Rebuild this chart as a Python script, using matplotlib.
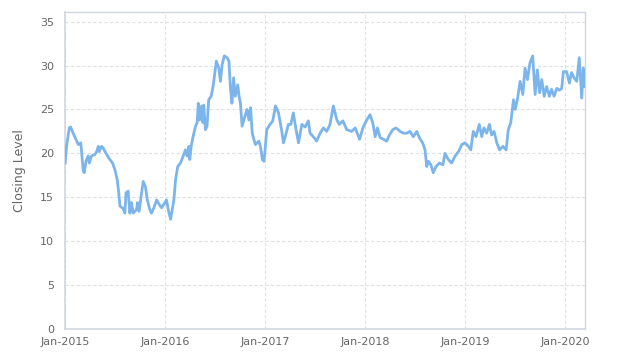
import matplotlib
matplotlib.use("Agg")
import matplotlib.pyplot as plt
import matplotlib.dates as mdates
import pandas as pd

dates = [
    "2015-01-02", "2015-01-07", "2015-01-17", "2015-01-22", "2015-01-31", "2015-02-10",
    "2015-02-19", "2015-02-28", "2015-03-09", "2015-03-13", "2015-03-19", "2015-03-27",
    "2015-03-31", "2015-04-08", "2015-04-21", "2015-04-27", "2015-05-03", "2015-05-06",
    "2015-05-15", "2015-05-21", "2015-06-02", "2015-06-14", "2015-06-24", "2015-07-03",
    "2015-07-11", "2015-07-16", "2015-07-21", "2015-08-02", "2015-08-08", "2015-08-12",
    "2015-08-20", "2015-08-26", "2015-09-01", "2015-09-07", "2015-09-20", "2015-09-23",
    "2015-09-29", "2015-10-08", "2015-10-14", "2015-10-22", "2015-10-29", "2015-11-07",
    "2015-11-13", "2015-11-22", "2015-12-02", "2015-12-11", "2015-12-20",
    "2016-01-07", "2016-01-16", "2016-01-22", "2016-01-28", "2016-02-03", "2016-02-09",
    "2016-02-17", "2016-02-27", "2016-03-08", "2016-03-16", "2016-03-22", "2016-03-29",
    "2016-04-01", "2016-04-06", "2016-04-13", "2016-04-22", "2016-04-28", "2016-05-02",
    "2016-05-07", "2016-05-14", "2016-05-19", "2016-05-22", "2016-05-28", "2016-06-03",
    "2016-06-09", "2016-06-18", "2016-06-25", "2016-07-07", "2016-07-16", "2016-07-22",
    "2016-07-28", "2016-08-05", "2016-08-15", "2016-08-22", "2016-08-27", "2016-09-02",
    "2016-09-08", "2016-09-14", "2016-09-23", "2016-09-28", "2016-10-03", "2016-10-09",
    "2016-10-21", "2016-10-27", "2016-11-03", "2016-11-09", "2016-11-15", "2016-11-21",
    "2016-11-27", "2016-12-09", "2016-12-15", "2016-12-22", "2016-12-28",
    "2017-01-02", "2017-01-07", "2017-01-19", "2017-01-29", "2017-02-08", "2017-02-19",
    "2017-03-03", "2017-03-09", "2017-03-19", "2017-03-27", "2017-04-05", "2017-04-14",
    "2017-04-24", "2017-05-03", "2017-05-15", "2017-05-27", "2017-06-08", "2017-06-14",
    "2017-06-26", "2017-07-08", "2017-07-21", "2017-08-02", "2017-08-14", "2017-08-26",
    "2017-09-07", "2017-09-20", "2017-09-29", "2017-10-12", "2017-10-26", "2017-11-13",
    "2017-11-26", "2017-12-12", "2017-12-24",
    "2018-01-07", "2018-01-19", "2018-01-29", "2018-02-07", "2018-02-15", "2018-02-25",
    "2018-03-09", "2018-03-21", "2018-03-31", "2018-04-12", "2018-04-24", "2018-05-09",
    "2018-05-21", "2018-06-02", "2018-06-14", "2018-06-26", "2018-07-09", "2018-07-18",
    "2018-07-30", "2018-08-08", "2018-08-14", "2018-08-20", "2018-08-29", "2018-09-07",
    "2018-09-17", "2018-09-29", "2018-10-12", "2018-10-20", "2018-11-01", "2018-11-13",
    "2018-11-26", "2018-12-08", "2018-12-20",
    "2019-01-01", "2019-01-13", "2019-01-22", "2019-01-31", "2019-02-10", "2019-02-22",
    "2019-03-03", "2019-03-11", "2019-03-21", "2019-03-31", "2019-04-08", "2019-04-17",
    "2019-04-27", "2019-05-07", "2019-05-19", "2019-05-31", "2019-06-08", "2019-06-17",
    "2019-06-27", "2019-07-03", "2019-07-11", "2019-07-21", "2019-07-31", "2019-08-08",
    "2019-08-17", "2019-08-26", "2019-09-05", "2019-09-14", "2019-09-22", "2019-09-30",
    "2019-10-08", "2019-10-17", "2019-10-26", "2019-11-05", "2019-11-13", "2019-11-22",
    "2019-12-02", "2019-12-12", "2019-12-20", "2019-12-26",
    "2020-01-07", "2020-01-17", "2020-01-25", "2020-02-03", "2020-02-13", "2020-02-22",
    "2020-03-02", "2020-03-08", "2020-03-14",
]

closing = [
    18.9, 20.8, 22.9, 23.0, 22.3, 21.6,
    21.0, 21.2, 18.0, 17.8, 19.1, 19.7,
    18.9, 19.7, 19.9, 20.2, 20.8, 20.2,
    20.8, 20.6, 19.9, 19.3, 18.9, 18.1,
    17.0, 15.7, 14.0, 13.7, 13.2, 15.5,
    15.7, 13.2, 14.4, 13.2, 13.6, 14.4,
    13.4, 15.5, 16.8, 16.2, 14.7, 13.6,
    13.2, 13.8, 14.7, 14.2, 13.8,
    14.7, 13.2, 12.5, 13.6, 14.7, 17.0,
    18.5, 18.9, 19.7, 20.4, 19.7, 20.8,
    19.3, 20.8, 21.9, 23.1, 23.5, 25.7,
    23.8, 25.4, 23.5, 25.5, 22.7, 23.1,
    26.1, 26.5, 27.6, 30.5, 29.7, 28.2,
    30.1, 31.1, 30.9, 30.5, 27.6, 25.7,
    28.6, 26.5, 27.8, 26.5, 25.7, 23.1,
    24.4, 25.0, 23.8, 25.2, 22.3, 21.6,
    21.0, 21.4, 20.8, 19.3, 19.1,
    20.8, 22.7, 23.3, 23.7, 25.4, 24.6,
    22.5, 21.2, 22.3, 23.3, 23.3, 24.6,
    22.7, 21.2, 23.3, 23.0, 23.7, 22.3,
    21.9, 21.4, 22.3, 22.9, 22.5, 23.3,
    25.4, 23.8, 23.3, 23.7, 22.7, 22.5,
    22.9, 21.6, 22.9,
    23.8, 24.4, 23.5, 21.9, 22.9, 21.8,
    21.6, 21.4, 22.1, 22.7, 22.9, 22.5,
    22.3, 22.3, 22.5, 21.9, 22.5, 21.8,
    21.2, 20.4, 18.5, 19.1, 18.7, 17.8,
    18.5, 18.9, 18.7, 20.0, 19.3, 18.9,
    19.7, 20.2, 21.0,
    21.2, 20.8, 20.4, 22.5, 21.9, 23.3,
    21.9, 22.9, 22.3, 23.3, 22.1, 22.5,
    21.2, 20.4, 20.8, 20.4, 22.7, 23.5,
    26.1, 25.0, 26.1, 28.2, 26.7, 29.7,
    28.4, 30.3, 31.1, 26.7, 29.5, 26.9,
    28.4, 26.5, 27.6, 26.5, 27.3, 26.5,
    27.4, 27.2, 27.4, 29.3,
    29.3, 28.0, 29.2, 28.6, 28.2, 30.9,
    26.3, 29.7, 27.6,
]

y_ticks = [0, 5, 10, 15, 20, 25, 30, 35]
x_ticks = ["2015-01-01", "2016-01-01", "2017-01-01", "2018-01-01", "2019-01-01", "2020-01-01"]

x = pd.to_datetime(dates)
fig = plt.figure(figsize=(6.24, 3.62), dpi=100)
ax = fig.add_axes([0.104, 0.091, 0.8335, 0.876])

ax.plot(x, closing, color="#7cb5ec", linewidth=2.0, solid_joinstyle="round", zorder=3)

ax.set_xlim(pd.Timestamp("2015-01-01"), x[-1])
ax.set_ylim(0, 36.1)
ax.set_yticks(y_ticks)
ax.set_xticks(pd.to_datetime(x_ticks))
ax.xaxis.set_major_formatter(mdates.DateFormatter("%b-%Y"))

ax.grid(True, color="#e0e0e0", linestyle=(0, (3, 2)), linewidth=0.8, zorder=0)
for s in ax.spines.values():
    s.set_color("#d0d6e2")
    s.set_linewidth(1.0)
ax.spines["left"].set_linewidth(1.2)
ax.spines["bottom"].set_linewidth(1.2)
ax.tick_params(axis="both", length=0, colors="#666666", labelsize=8)
ax.tick_params(axis="y", pad=8)
ax.tick_params(axis="x", pad=6)
ax.set_ylabel("Closing Level", color="#666666", fontsize=9, labelpad=10)

fig.savefig("out.png", dpi=100)
